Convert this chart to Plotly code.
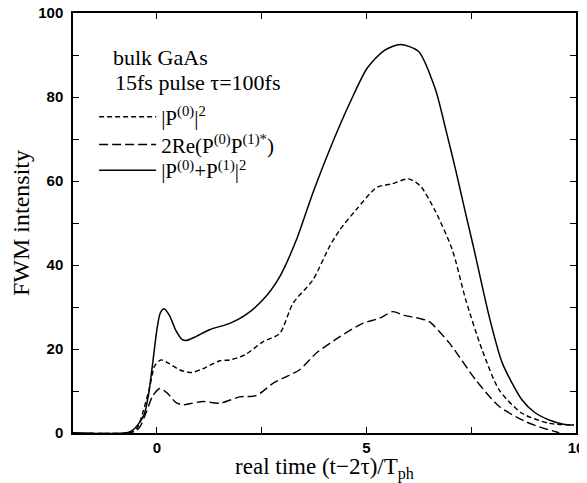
import plotly.graph_objects as go

# |P0+P1|^2 (solid)
x_tot = [-2, -0.75, -0.6, -0.45, -0.3, -0.2, -0.1, 0, 0.08, 0.17, 0.3, 0.45, 0.6, 0.69, 0.9, 1.26,
         1.74, 2.1, 2.53, 2.93, 3.33, 3.72, 4.12, 4.6, 5.02, 5.43, 5.81, 6.24, 6.64, 6.9, 7.13,
         7.35, 7.57, 7.93, 8.24, 8.71, 9.0, 9.36, 9.7, 9.95]
y_tot = [0, 0, 0.5, 2, 4.5, 9, 16.5, 24.5, 28.5, 29.6, 28, 24.5, 22.3, 22.0, 22.8, 24.6,
         26.1, 28.0, 31.7, 37.2, 46.0, 57.1, 67.4, 78.5, 86.9, 91.1, 92.5, 90.9, 82, 72, 62.6,
         53, 43.6, 27.7, 16.7, 7.9, 5, 3.1, 2.1, 1.9]

# |P0|^2 (short dash)
x_p0 = [-2, -0.75, -0.55, -0.45, -0.33, -0.17, -0.05, 0.1, 0.3, 0.55, 0.83, 1.1, 1.5, 1.74, 2.1,
        2.53, 2.93, 3.25, 3.72, 4.12, 4.36, 4.75, 5.25, 5.6, 6.0, 6.28, 6.64, 7.05,
        7.37, 7.76, 8.17, 8.71, 9.36, 9.95]
y_p0 = [0, 0, 0.5, 1.5, 5, 11, 16, 17.4, 16.5, 15, 14.4, 15.3, 17.2, 17.4, 18.6,
        21.7, 23.7, 30.9, 36.4, 44.4, 48.3, 53.1, 58.5, 59.3, 60.5, 58.9, 52.9, 43.6,
        31.7, 19.8, 10.2, 4.7, 2.3, 1.9]

# 2Re(P0 P1*) (long dash)
x_re = [-2, -0.7, -0.5, -0.4, -0.25, -0.1, 0.07, 0.25, 0.45, 0.63, 0.85, 1.1, 1.5, 1.98, 2.37,
        2.77, 3.0, 3.4, 3.8, 4.36, 4.91, 5.31, 5.63, 5.9, 6.26, 6.5, 6.98, 7.61, 8.17, 8.8,
        9.2, 9.52, 9.6]
y_re = [0, 0, 0.5, 1.5, 5, 8.8, 10.6, 9.5, 7.3, 6.7, 7.1, 7.5, 7.1, 8.6, 8.9,
        11.8, 13, 15, 19, 22.9, 26.1, 27.3, 28.9, 28, 27.3, 26.5, 21.4, 12.6, 6.3, 2.7,
        1.2, 0.3, 0]

names = ["|P<sup>(0)</sup>|<sup>2</sup>",
         "2Re(P<sup>(0)</sup>P<sup>(1)*</sup>)",
         "|P<sup>(0)</sup>+P<sup>(1)</sup>|<sup>2</sup>"]

serif = "Liberation Serif"
sans = "Liberation Sans"

fig = go.Figure()
fig.add_trace(go.Scatter(x=x_p0, y=y_p0, mode="lines", name=names[0], legend="legend",
                         line=dict(color="black", width=1.4, dash="5px,3px", shape="spline", smoothing=0.7)))
fig.add_trace(go.Scatter(x=x_re, y=y_re, mode="lines", name=names[1], legend="legend2",
                         line=dict(color="black", width=1.4, dash="9px,4px", shape="spline", smoothing=0.7)))
fig.add_trace(go.Scatter(x=x_tot, y=y_tot, mode="lines", name=names[2], legend="legend3",
                         line=dict(color="black", width=1.5, shape="spline", smoothing=0.7)))

def leg(yc):
    return dict(x=0.042, y=yc, xanchor="left", yanchor="middle",
                bgcolor="rgba(0,0,0,0)", font=dict(family=serif, size=21, color="black"),
                itemwidth=57)

fig.update_layout(
    width=579, height=475,
    margin=dict(l=65, r=11, t=5, b=50, autoexpand=False),
    plot_bgcolor="white", paper_bgcolor="white",
    showlegend=True,
    legend=leg(0.752), legend2=leg(0.686), legend3=leg(0.625),
    annotations=[
        dict(text="bulk GaAs", x=0.076, y=0.893, xref="paper", yref="paper",
             xanchor="left", yanchor="middle", showarrow=False,
             font=dict(family=serif, size=22, color="black")),
        dict(text="15fs pulse τ=100fs", x=0.08, y=0.834, xref="paper", yref="paper",
             xanchor="left", yanchor="middle", showarrow=False,
             font=dict(family=serif, size=22, color="black")),
    ],
)

fig.update_xaxes(range=[-2, 10], tickvals=[0, 5, 10], ticktext=["0", "5", "10"],
                 ticks="inside", ticklen=6, tickcolor="black", mirror="ticks",
                 showline=True, linecolor="black", linewidth=1.5, showgrid=False, zeroline=False,
                 minor=dict(ticks="inside", ticklen=6, tickvals=[2.5, 7.5], tickcolor="black"),
                 tickfont=dict(family=sans, size=15, color="black", weight="bold"),
                 automargin=False, ticklabeloverflow="allow",
                 title=dict(text="real time (t\u22122τ)/T<sub>ph</sub>", standoff=2,
                            font=dict(family=serif, size=23, color="black")))
fig.update_yaxes(range=[0, 100], tickvals=[0, 20, 40, 60, 80, 100],
                 ticks="inside", ticklen=6, tickcolor="black", mirror="ticks",
                 showline=True, linecolor="black", linewidth=1.5, showgrid=False, zeroline=False,
                 minor=dict(ticks="inside", ticklen=6, tickvals=[10, 30, 50, 70, 90], tickcolor="black"),
                 tickfont=dict(family=sans, size=15, color="black", weight="bold"),
                 ticklabelstandoff=5, automargin=False, ticklabeloverflow="allow",
                 title=dict(text="FWM intensity", standoff=9,
                            font=dict(family=serif, size=24, color="black")))

fig.write_html("out.html")
